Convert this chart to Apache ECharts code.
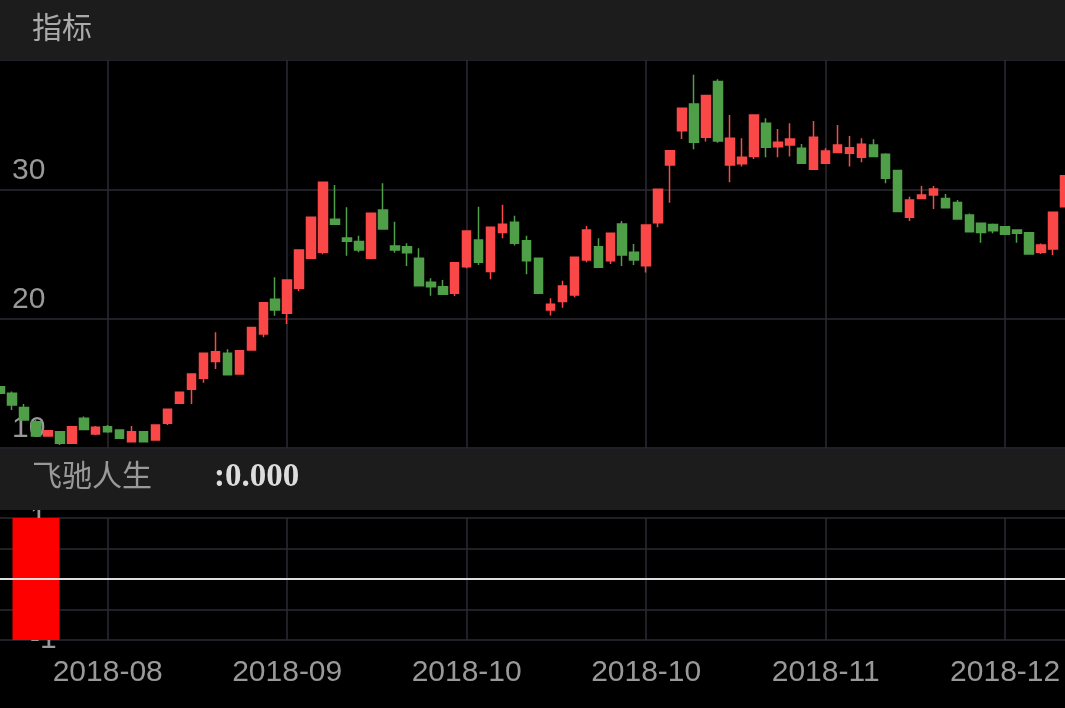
<!DOCTYPE html>
<html><head><meta charset="utf-8">
<script src="https://cdn.jsdelivr.net/npm/echarts@6/dist/echarts.min.js"></script>
<style>html,body{margin:0;padding:0;background:#000}#c{width:1065px;height:708px}</style>
</head><body><div id="c"></div>
<script>
// [open, close, low, high]
const candles = [
[14.74,14.23,14.2,14.8],[14.23,13.33,12.94,14.36],[13.14,12.17,12.1,13.4],[12.03,10.92,10.9,12.17],
[10.92,11.34,10.9,11.4],[11.26,10.36,10.23,11.3],[10.36,11.65,10.36,11.65],[12.3,11.44,11.4,12.43],
[11.08,11.6,11.0,11.7],[11.65,11.26,11.18,11.78],[11.39,10.75,10.7,11.4],[10.49,11.26,10.45,11.7],
[11.26,10.49,10.45,11.3],[10.62,11.78,10.6,11.78],[11.91,12.99,11.78,13.0],[13.46,14.31,13.46,14.31],
[14.54,15.72,13.41,15.72],[15.39,17.32,15.05,17.32],[16.68,17.45,16.11,18.95],[17.32,15.67,15.6,17.63],
[15.72,17.52,15.72,17.52],[17.58,19.31,17.58,19.31],[18.82,21.24,18.56,21.24],[21.5,20.67,20.23,23.2],
[20.41,22.99,19.59,22.99],[22.35,25.31,22.14,25.31],[24.67,27.84,24.67,27.84],[25.13,30.55,24.98,30.6],
[27.69,27.3,27.3,30.34],[26.24,25.98,24.87,28.61],[25.96,25.31,25.13,26.42],[24.67,28.15,24.6,28.15],
[28.41,26.94,26.94,30.47],[25.62,25.31,25.1,27.5],[25.57,25.1,24.07,25.83],[24.67,22.55,22.55,25.44],
[22.81,22.47,21.78,23.12],[22.47,21.88,21.85,22.99],[21.96,24.33,21.76,24.33],[24.02,26.78,23.89,26.78],
[26.09,24.36,24.15,28.66],[23.64,27.07,23.04,27.07],[26.66,27.3,26.21,28.8],[27.45,25.83,25.65,27.95],
[26.03,24.48,23.43,26.42],[24.67,21.96,21.96,24.67],[20.67,21.11,20.24,21.57],[21.32,22.53,20.85,22.94],
[21.83,24.75,21.65,24.75],[24.54,26.86,24.36,27.17],[25.57,23.97,23.97,26.21],[24.48,26.6,24.23,26.6],
[27.32,24.93,24.07,27.56],[25.13,24.54,24.15,25.78],[24.1,27.25,23.56,27.25],[27.42,30.0,27.07,30.0],
[31.89,32.99,28.97,32.99],[34.52,36.27,33.9,36.27],[36.6,33.64,33.1,38.85],[34.03,37.25,33.69,37.25],
[38.33,33.74,33.61,38.51],[31.89,33.95,30.55,35.75],[31.97,32.48,31.76,33.95],[32.53,35.75,32.35,35.75],
[35.1,33.25,32.48,35.49],[33.3,33.64,32.48,34.67],[33.43,33.9,32.53,35.1],[33.17,32.02,32.02,33.51],
[31.56,34.03,31.5,35.28],[32.02,32.97,32.02,33.17],[32.84,33.43,32.84,34.98],[32.79,33.22,31.76,34.13],
[32.48,33.48,32.09,33.95],[33.43,32.53,32.53,33.87],[32.71,30.86,30.47,32.79],[31.45,28.28,28.28,31.45],
[27.84,29.18,27.56,29.43],[29.3,29.56,29.3,30.26],[29.56,30.03,28.48,30.26],[29.3,28.58,28.58,29.64],
[28.99,27.7,27.7,29.18],[28.01,26.73,26.73,28.14],[27.37,26.67,25.87,27.37],[27.29,26.8,26.6,27.35],
[27.1,26.52,26.52,27.1],[26.86,26.6,25.87,26.91],[26.65,25.0,25.0,26.7],[25.13,25.7,25.0,25.82],
[25.38,28.22,24.92,28.22],[28.65,31.05,28.65,31.05]
];
const tickIndex = [9,24,39,54,69,84];
const tickLabels = ['2018-08','2018-09','2018-10','2018-10','2018-11','2018-12'];
const indicatorBars = [[3,[-1,1,-1,1]]];
const indicatorName = '飞驰人生';
const indicatorValue = ':0.000';

const categories = candles.map((d,i)=>String(i));
const bottomData = categories.map(()=>'-');
indicatorBars.forEach(([i,v])=>{bottomData[i]=v;});

const isTick = (i)=>tickIndex.indexOf(Number(i))>=0;
const gridLineColor = '#2b2b33';
const xBase = {
  type:'category', data:categories, boundaryGap:false,
  axisLine:{show:false}, axisTick:{show:false},
  splitLine:{show:true, interval:(i)=>isTick(i), lineStyle:{color:gridLineColor,width:1.5}}
};
const chart = echarts.init(document.getElementById('c'));
chart.setOption({
  backgroundColor:'#000',
  animation:false,
  grid:[
    {left:0,right:0,top:60,height:388},
    {left:0,right:0,top:518,height:122}
  ],
  xAxis:[
    Object.assign({},xBase,{gridIndex:0,axisLabel:{show:false}}),
    Object.assign({},xBase,{gridIndex:1,
      axisLine:{show:true,lineStyle:{color:'#333',width:2}},
      axisLabel:{show:true,interval:(i)=>isTick(i),
        formatter:(v,i)=>tickLabels[tickIndex.indexOf(Number(v))]||'',
        color:'#999',fontSize:30,fontFamily:'Liberation Sans, Arial',margin:18}})
  ],
  yAxis:[
    {type:'value',gridIndex:0,min:10,max:40,interval:10,
     axisLine:{show:false},axisTick:{show:false},
     splitLine:{lineStyle:{color:gridLineColor,width:1.5}},
     axisLabel:{inside:true,color:'#999',fontSize:30,fontFamily:'Liberation Sans, Arial',
       verticalAlign:'bottom',padding:[0,0,4,4],margin:8}},
    {type:'value',gridIndex:1,min:-1,max:1,interval:0.5,
     axisLine:{show:false},axisTick:{show:false},
     splitLine:{lineStyle:{color:gridLineColor,width:1.5}},
     axisLabel:{inside:true,color:'#999',fontSize:30,fontFamily:'Liberation Sans, Arial',
       formatter:(v)=>(v===1||v===0||v===-1)?String(v):'',margin:30}}
  ],
  series:[
    {type:'candlestick',xAxisIndex:0,yAxisIndex:0,data:candles,barWidth:9,
     itemStyle:{color:'#fa4848',color0:'#4f9e48',borderColor:'#fa4848',borderColor0:'#4f9e48',borderWidth:1.5}},
    {type:'candlestick',xAxisIndex:1,yAxisIndex:1,data:bottomData,barWidth:47,
     itemStyle:{color:'#ff0000',color0:'#ff0000',borderColor:'#ff0000',borderColor0:'#ff0000',borderWidth:0},
     markLine:{silent:true,symbol:'none',label:{show:false},
       lineStyle:{color:'#dddddd',width:2,type:'solid'},data:[{yAxis:0}]}}
  ],
  graphic:[
    {type:'rect',z:100,shape:{x:0,y:0,width:1065,height:60},style:{fill:'#1c1c1c'}},
    {type:'text',z:101,left:32,top:12,style:{text:'指标',fill:'#aaaaaa',font:'30px "Noto Sans CJK SC"'}},
    {type:'rect',z:100,shape:{x:0,y:449,width:1065,height:61},style:{fill:'#1c1c1c'}},
    {type:'text',z:101,left:32,top:460,style:{text:indicatorName,fill:'#999999',font:'30px "Noto Sans CJK SC"'}},
    {type:'text',z:101,left:214,top:461,style:{text:indicatorValue,fill:'#dddddd',font:'bold 33px "Liberation Serif", serif'}}
  ]
});
</script></body></html>
